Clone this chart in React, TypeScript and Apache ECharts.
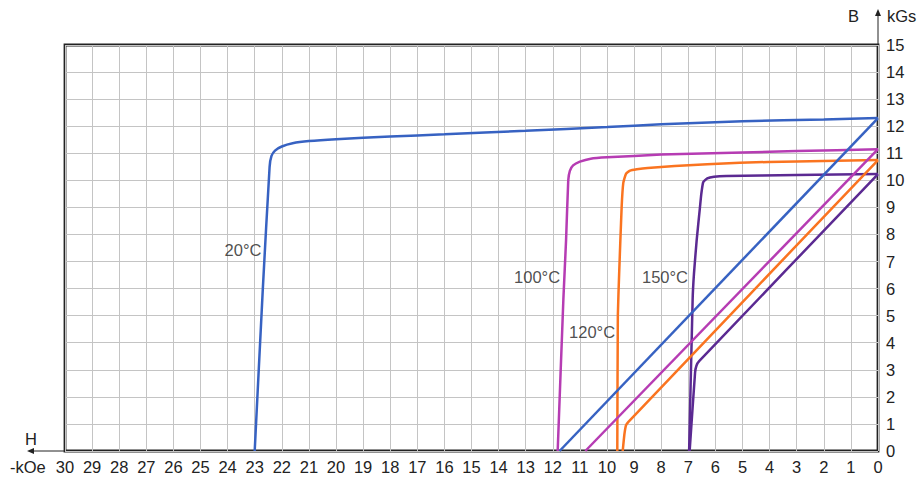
import React, { useEffect, useRef } from "react";
import * as echarts from "echarts";

// Demagnetization curves, B (kGs) against -H (kOe)
const curve20: [number, number][] = [
  [0, 12.3], [2, 12.25], [5, 12.18], [8, 12.07], [10, 11.97], [13, 11.83], [16, 11.7],
  [18, 11.62], [20, 11.52], [21, 11.45], [21.6, 11.37], [22.0, 11.25], [22.25, 11.1],
  [22.38, 10.9], [22.45, 10.5], [22.7, 6], [23.0, 0],
];
const curve100: [number, number][] = [
  [0, 11.15], [3, 11.08], [5, 11.03], [8, 10.95], [10, 10.85], [10.6, 10.8], [11.0, 10.69],
  [11.25, 10.55], [11.37, 10.35], [11.43, 10.0], [11.51, 7.8], [11.61, 5.6], [11.82, 0],
];
const curve120: [number, number][] = [
  [0, 10.75], [3, 10.7], [5.1, 10.65], [7.5, 10.53], [8.5, 10.46], [8.9, 10.41],
  [9.15, 10.36], [9.3, 10.24], [9.4, 9.9], [9.46, 9.0], [9.55, 6.6], [9.6, 5], [9.62, 0],
];
const curve150: [number, number][] = [
  [0, 10.23], [3, 10.2], [5.6, 10.16], [6.05, 10.13], [6.3, 10.07], [6.45, 9.93],
  [6.52, 9.5], [6.57, 9.0], [6.69, 7.8], [6.79, 6.56], [6.84, 5.6], [6.97, 0],
];

// Recoil (normal) lines
const recoil20: [number, number][] = [[0, 12.3], [11.75, 0]];
const recoil100: [number, number][] = [[0, 11.15], [10.8, 0]];
const recoil120: [number, number][] = [[0, 10.75], [9.21, 1.08], [9.3, 0.95], [9.36, 0.6], [9.42, 0]];
const recoil150: [number, number][] = [[0, 10.23], [6.6, 3.32], [6.7, 3.15], [6.75, 2.9], [6.95, 0]];

const temperatureLabels: [number, number, string][] = [
  [23.43, 7.43, "20°C"],
  [12.58, 6.43, "100°C"],
  [10.55, 4.4, "120°C"],
  [7.86, 6.43, "150°C"],
];

const COLORS = {
  t20: "#3762c2",
  t100: "#b63cb3",
  t120: "#fa7420",
  t150: "#5b2a92",
};

const FONT = "'Liberation Sans', Arial, Helvetica, sans-serif";
const INK = "#222";
const FS = 16.5;

function lineSeries(name: string, data: [number, number][], color: string) {
  return {
    name,
    type: "line",
    data,
    showSymbol: false,
    symbol: "none",
    smooth: 0.15,
    lineStyle: { color, width: 2.5 },
    z: 3,
  };
}

export default function App() {
  const ref = useRef<HTMLDivElement>(null);

  useEffect(() => {
    if (!ref.current) return;
    const chart = echarts.init(ref.current, undefined, { renderer: "svg" });
    chart.setOption({
      animation: false,
      textStyle: { fontFamily: FONT },
      grid: {
        left: 65,
        right: 44,
        top: 45,
        bottom: 28,
        show: true,
        borderColor: INK,
        borderWidth: 2.8,
        backgroundColor: "transparent",
      },
      xAxis: {
        type: "value",
        inverse: true,
        min: 0,
        max: 30,
        interval: 1,
        axisLine: { show: false },
        axisTick: { show: false },
        axisLabel: { color: INK, fontSize: FS, margin: 7, fontFamily: FONT },
        splitLine: { show: true, lineStyle: { color: "#c4c4c4", width: 1 } },
      },
      yAxis: {
        type: "value",
        position: "right",
        min: 0,
        max: 15,
        interval: 1,
        axisLine: { show: false },
        axisTick: { show: false },
        axisLabel: { color: INK, fontSize: FS, margin: 8, fontFamily: FONT },
        splitLine: { show: true, lineStyle: { color: "#c4c4c4", width: 1 } },
      },
      series: [
        lineSeries("20°C", curve20, COLORS.t20),
        lineSeries("100°C", curve100, COLORS.t100),
        lineSeries("120°C", curve120, COLORS.t120),
        lineSeries("150°C", curve150, COLORS.t150),
        lineSeries("20°C recoil", recoil20, COLORS.t20),
        lineSeries("100°C recoil", recoil100, COLORS.t100),
        lineSeries("120°C recoil", recoil120, COLORS.t120),
        lineSeries("150°C recoil", recoil150, COLORS.t150),
        {
          name: "labels",
          type: "scatter",
          symbolSize: 0,
          data: temperatureLabels.map(([x, y, t]) => ({ value: [x, y], name: t })),
          label: {
            show: true,
            position: "inside",
            formatter: (p: any) => p.name,
            color: INK,
            fontSize: FS,
            fontFamily: FONT,
          },
          z: 5,
        },
      ],
      graphic: [
        // H axis arrow
        { type: "line", shape: { x1: 65, y1: 451, x2: 30, y2: 451 }, style: { stroke: INK, lineWidth: 1 } },
        { type: "polygon", shape: { points: [[27, 451], [34, 448], [34, 454]] }, style: { fill: INK } },
        { type: "text", left: 25, top: 430, style: { text: "H", fontSize: FS, fill: INK, fontFamily: FONT } },
        { type: "text", left: 10, top: 458, style: { text: "-kOe", fontSize: FS, fill: INK, fontFamily: FONT } },
        // B axis arrow
        { type: "line", shape: { x1: 878, y1: 45, x2: 878, y2: 12 }, style: { stroke: INK, lineWidth: 1 } },
        { type: "polygon", shape: { points: [[878, 9], [875, 16], [881, 16]] }, style: { fill: INK } },
        { type: "text", left: 848, top: 7, style: { text: "B", fontSize: FS, fill: INK, fontFamily: FONT } },
        { type: "text", left: 887, top: 7, style: { text: "kGs", fontSize: FS, fill: INK, fontFamily: FONT } },
      ],
    });
    return () => chart.dispose();
  }, []);

  return <div ref={ref} style={{ width: 922, height: 479, position: "absolute", left: 0, top: 0 }} />;
}
